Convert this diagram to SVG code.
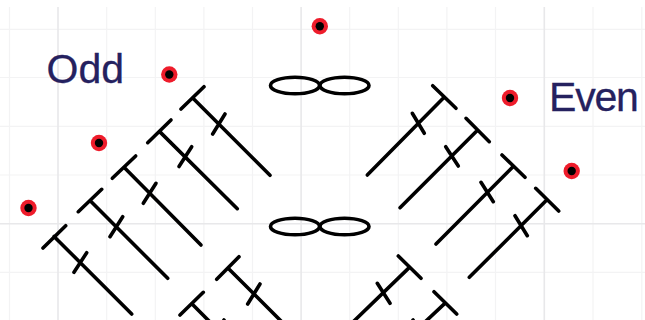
<svg xmlns="http://www.w3.org/2000/svg" width="645" height="320" viewBox="0 0 645 320">
<style>
.g{stroke:#f3f3f4;stroke-width:1.2;fill:none}
.m{stroke:#e8e8ea;stroke-width:1.6;fill:none}
.s{stroke:#000;stroke-width:3.6;stroke-linecap:round;fill:none}
.r{fill:#ee1c2b}
.b{fill:#000}
.t{font-family:"Liberation Sans",Arial,sans-serif;font-size:41px;fill:#25215f;stroke:#25215f;stroke-width:.3}
</style>
<g id="grid">
<path class="g" d="M9.5 7V320M106.7 7V320M155.3 7V320M203.9 7V320M252.5 7V320M349.7 7V320M398.3 7V320M446.9 7V320M495.5 7V320M593 7V320M641.8 7V320M0 29.3H645M0 77.5H645M0 126.3H645M0 175H645M0 272.3H645"/>
<path class="m" d="M58 7V320M301.1 7V320M544.3 7V320M0 223.7H645"/>
</g>
<g id="connectors">
<path class="s" d="M43 248L65.7 225.7M54 236.4L131.7 314M74 272.3L86.7 252.7"/>
<path class="s" d="M78.3 211.7L101.7 189.3M90 200.5L167.7 278.3M110 236.7L122.7 216.7"/>
<path class="s" d="M112.3 178.3L135.7 156M124 167.2L201 245M143.3 203.3L156 183.3"/>
<path class="s" d="M147.7 142.7L171 120M159.4 131.4L237.3 208.7M179 166.5L191.7 146.7"/>
<path class="s" d="M181 109L204 86.7M192.5 97.8L270 175.3M212.7 134L225 114"/>
<path class="s" d="M180 315L203.3 292.3M191.6 303.6L210 322M211 340L224 320"/>
<path class="s" d="M216.7 279.3L239 256.7M227.9 267.9L282 322M247.7 304L260 284"/>
<path class="s" d="M398.3 256L421 278.3M409.7 267.1L353 322M377.3 283.3L390 303.3"/>
<path class="s" d="M434 291.7L456.7 314M445.4 302.9L425 322M413 320L426 340"/>
<path class="s" d="M535.7 188.3L558.7 211M547.2 199.6L469.3 277.3M515 215.7L527.3 235.7"/>
<path class="s" d="M502 155L525 177.3M513.5 166.2L436 244M481 182.3L493.3 201.7"/>
<path class="s" d="M466 118.3L489.3 141.7M477.7 130L400 207.7M445.7 146.7L458.3 166"/>
<path class="s" d="M432.7 85.7L456 108.3M444.4 97L367.3 175M412.3 113.3L424.3 133.3"/>
</g>
<g id="loop-top">
<ellipse class="s" cx="295" cy="85.5" rx="24.5" ry="8.3"/>
<ellipse class="s" cx="344.5" cy="85.5" rx="24.5" ry="8.3"/>
</g>
<g id="loop-bottom">
<ellipse class="s" cx="295" cy="226.5" rx="24.5" ry="8.3"/>
<ellipse class="s" cx="344.5" cy="226.5" rx="24.5" ry="8.3"/>
</g>
<g id="dot-1"><circle class="r" cx="169.3" cy="74.5" r="8.2"/><circle class="b" cx="169.3" cy="74.5" r="4.2"/></g>
<g id="dot-2"><circle class="r" cx="99" cy="143" r="8.2"/><circle class="b" cx="99" cy="143" r="4.2"/></g>
<g id="dot-3"><circle class="r" cx="28.5" cy="208" r="8.2"/><circle class="b" cx="28.5" cy="208" r="4.2"/></g>
<g id="dot-4"><circle class="r" cx="319.8" cy="26.3" r="8.2"/><circle class="b" cx="319.8" cy="26.3" r="4.2"/></g>
<g id="dot-5"><circle class="r" cx="510" cy="98" r="8.2"/><circle class="b" cx="510" cy="98" r="4.2"/></g>
<g id="dot-6"><circle class="r" cx="571.7" cy="171" r="8.2"/><circle class="b" cx="571.7" cy="171" r="4.2"/></g>
<g id="label-odd"><text class="t" x="46.500" y="83">Odd</text></g>
<g id="label-even"><text class="t" x="549" y="110.500" letter-spacing="-1.200">Even</text></g>
</svg>
